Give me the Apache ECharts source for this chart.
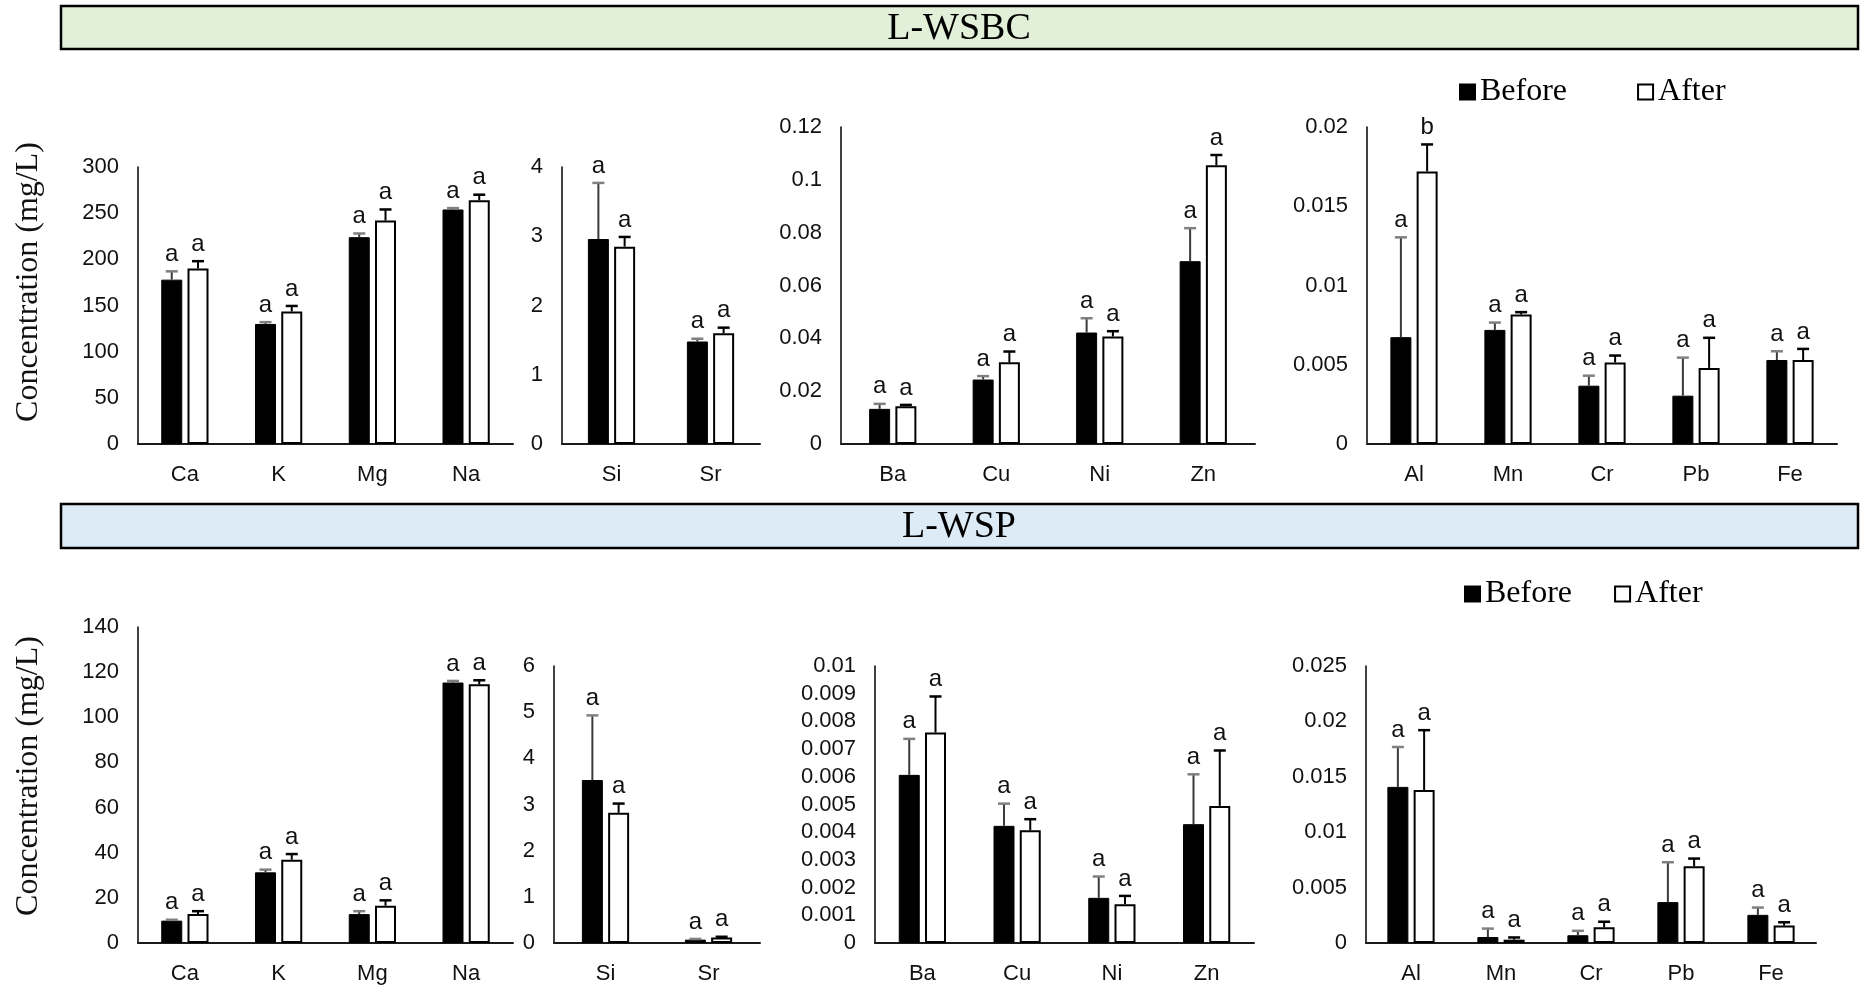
<!DOCTYPE html>
<html>
<head>
<meta charset="utf-8">
<title>L-WSBC / L-WSP element concentrations</title>
<script src="https://cdn.jsdelivr.net/npm/echarts@6/dist/echarts.min.js"></script>
<style>
  html, body { margin: 0; padding: 0; background: #fff; }
  #chart { width: 1863px; height: 1001px; }
</style>
</head>
<body>
<div id="chart"></div>
<script>
// ---- categories ----
const majorCats = ['Ca', 'K', 'Mg', 'Na'];
const siSrCats = ['Si', 'Sr'];
const traceCats = ['Ba', 'Cu', 'Ni', 'Zn'];
const minorCats = ['Al', 'Mn', 'Cr', 'Pb', 'Fe'];

// ---- L-WSBC (mg/L), mean and one-sided error ----
const wsbcMajorBefore = [178, 130, 224, 254];
const wsbcMajorBeforeErr = [9, 2, 4, 1.5];
const wsbcMajorAfter = [190, 143.5, 242, 264];
const wsbcMajorAfterErr = [8, 6, 12, 6];

const wsbcSiSrBefore = [2.96, 1.48];
const wsbcSiSrBeforeErr = [0.81, 0.04];
const wsbcSiSrAfter = [2.85, 1.60];
const wsbcSiSrAfterErr = [0.14, 0.08];

const wsbcTraceBefore = [0.0133, 0.0244, 0.0422, 0.0692];
const wsbcTraceBeforeErr = [0.0019, 0.0013, 0.0054, 0.0125];
const wsbcTraceAfter = [0.0143, 0.0309, 0.0407, 0.1055];
const wsbcTraceAfterErr = [0.0005, 0.0041, 0.002, 0.0039];

const wsbcMinorBefore = [0.00674, 0.0072, 0.00368, 0.00305, 0.0053];
const wsbcMinorBeforeErr = [0.0063, 0.00046, 0.00063, 0.0024, 0.00055];
const wsbcMinorAfter = [0.0172, 0.00817, 0.00514, 0.0048, 0.0053];
const wsbcMinorAfterErr = [0.0017, 0.00015, 0.00044, 0.0019, 0.0007];
const wsbcMinorAfterLetters = ['b', 'a', 'a', 'a', 'a'];

// ---- L-WSP (mg/L), mean and one-sided error ----
const wspMajorBefore = [9.9, 31.3, 12.8, 115.4];
const wspMajorBeforeErr = [0.4, 1.2, 1.3, 0.7];
const wspMajorAfter = [12.8, 36.9, 16.5, 114.6];
const wspMajorAfterErr = [1.3, 2.5, 2.4, 1.8];

const wspSiSrBefore = [3.53, 0.073];
const wspSiSrBeforeErr = [1.4, 0.015];
const wspSiSrAfter = [2.82, 0.12];
const wspSiSrAfterErr = [0.2, 0.015];

const wspTraceBefore = [0.00607, 0.00423, 0.00163, 0.00429];
const wspTraceBeforeErr = [0.0013, 0.0008, 0.00077, 0.0018];
const wspTraceAfter = [0.0076, 0.00407, 0.0014, 0.00495];
const wspTraceAfterErr = [0.0013, 0.0004, 0.0003, 0.002];

const wspMinorBefore = [0.01409, 0.00054, 0.0007, 0.00369, 0.00254];
const wspMinorBeforeErr = [0.0036, 0.00076, 0.0004, 0.0036, 0.00066];
const wspMinorAfter = [0.01381, 0.0003, 0.00142, 0.00692, 0.00157];
const wspMinorAfterErr = [0.0054, 0.0002, 0.0005, 0.0007, 0.0003];

// ---- value axis ranges ----
const wsbcAxisMax = [300, 4, 0.12, 0.02];
const wsbcAxisStep = [50, 1, 0.02, 0.005];
const wspAxisMax = [140, 6, 0.01, 0.025];
const wspAxisStep = [20, 1, 0.001, 0.005];

// ---- drawing ----
const SANS = "'Liberation Sans Narrow', 'Liberation Sans', Arial, sans-serif";
const SERIF = "'Liberation Serif', 'Times New Roman', serif";
const BAR_W = 21;
const BAR_GAP = 0.25;
const HALF_STEP = (BAR_W + BAR_W * BAR_GAP) / 2;

function letters(n, l) { return new Array(n).fill(l || 'a'); }

const panels = [
  // top row
  { grid: { left: 138, width: 375, top: 167, height: 277 }, cats: majorCats, max: wsbcAxisMax[0], step: wsbcAxisStep[0],
    b: wsbcMajorBefore, be: wsbcMajorBeforeErr, a: wsbcMajorAfter, ae: wsbcMajorAfterErr },
  { grid: { left: 562, width: 198, top: 167, height: 277 }, cats: siSrCats, max: wsbcAxisMax[1], step: wsbcAxisStep[1],
    b: wsbcSiSrBefore, be: wsbcSiSrBeforeErr, a: wsbcSiSrAfter, ae: wsbcSiSrAfterErr },
  { grid: { left: 841, width: 414, top: 127, height: 317 }, cats: traceCats, max: wsbcAxisMax[2], step: wsbcAxisStep[2],
    b: wsbcTraceBefore, be: wsbcTraceBeforeErr, a: wsbcTraceAfter, ae: wsbcTraceAfterErr },
  { grid: { left: 1367, width: 470, top: 127, height: 317 }, cats: minorCats, max: wsbcAxisMax[3], step: wsbcAxisStep[3],
    b: wsbcMinorBefore, be: wsbcMinorBeforeErr, a: wsbcMinorAfter, ae: wsbcMinorAfterErr, al: wsbcMinorAfterLetters },
  // bottom row
  { grid: { left: 138, width: 375, top: 627, height: 316 }, cats: majorCats, max: wspAxisMax[0], step: wspAxisStep[0],
    b: wspMajorBefore, be: wspMajorBeforeErr, a: wspMajorAfter, ae: wspMajorAfterErr },
  { grid: { left: 554, width: 206, top: 666, height: 277 }, cats: siSrCats, max: wspAxisMax[1], step: wspAxisStep[1],
    b: wspSiSrBefore, be: wspSiSrBeforeErr, a: wspSiSrAfter, ae: wspSiSrAfterErr },
  { grid: { left: 875, width: 379, top: 666, height: 277 }, cats: traceCats, max: wspAxisMax[2], step: wspAxisStep[2],
    b: wspTraceBefore, be: wspTraceBeforeErr, a: wspTraceAfter, ae: wspTraceAfterErr },
  { grid: { left: 1366, width: 450, top: 666, height: 277 }, cats: minorCats, max: wspAxisMax[3], step: wspAxisStep[3],
    b: wspMinorBefore, be: wspMinorBeforeErr, a: wspMinorAfter, ae: wspMinorAfterErr }
];

// one-sided error bar with cap and significance letter above it
function errorRenderer(offset, lineColor, capColor, letterList) {
  return function (params, api) {
    const idx = api.value(0);
    const base = api.coord([idx, api.value(1)]);
    const tip = api.coord([idx, api.value(1) + api.value(2)]);
    const x = base[0] + offset;
    const letter = letterList[params.dataIndex] || '';
    return {
      type: 'group',
      children: [
        { type: 'line', shape: { x1: x, y1: base[1], x2: x, y2: tip[1] },
          style: { stroke: lineColor, lineWidth: 2 } },
        { type: 'line', shape: { x1: x - 6, y1: tip[1], x2: x + 6, y2: tip[1] },
          style: { stroke: capColor, lineWidth: 2.5 } },
        { type: 'text', x: x, y: tip[1] - 5,
          style: { text: letter, align: 'center', verticalAlign: 'bottom',
            fill: '#111', font: '24px ' + SANS } }
      ]
    };
  };
}

const grids = [], xAxes = [], yAxes = [], series = [];
panels.forEach(function (p, i) {
  grids.push(Object.assign({ containLabel: false }, p.grid));
  xAxes.push({
    type: 'category', gridIndex: i, data: p.cats,
    axisTick: { show: false },
    axisLine: { lineStyle: { color: '#1a1a1a', width: 2 } },
    axisLabel: { color: '#111', fontFamily: SANS, fontSize: 22, margin: 20 }
  });
  yAxes.push({
    type: 'value', gridIndex: i, min: 0, max: p.max, interval: p.step,
    splitLine: { show: false },
    axisTick: { show: false },
    axisLine: { show: true, lineStyle: { color: '#000', width: 1.5 } },
    axisLabel: { color: '#111', fontFamily: SANS, fontSize: 22, margin: 19 }
  });
  const bLetters = p.bl || letters(p.cats.length);
  const aLetters = p.al || letters(p.cats.length);
  series.push({
    name: 'Before', type: 'bar', xAxisIndex: i, yAxisIndex: i, data: p.b,
    barWidth: BAR_W, barGap: (BAR_GAP * 100) + '%',
    itemStyle: { color: '#000', borderColor: '#000', borderWidth: 1 }
  });
  series.push({
    name: 'After', type: 'bar', xAxisIndex: i, yAxisIndex: i, data: p.a,
    barWidth: BAR_W, barGap: (BAR_GAP * 100) + '%',
    itemStyle: { color: '#fff', borderColor: '#000', borderWidth: 2 }
  });
  series.push({
    type: 'custom', xAxisIndex: i, yAxisIndex: i, z: 5,
    renderItem: errorRenderer(-HALF_STEP, '#3a3a3a', '#808080', bLetters),
    data: p.b.map(function (v, k) { return [k, v, p.be[k]]; })
  });
  series.push({
    type: 'custom', xAxisIndex: i, yAxisIndex: i, z: 5,
    renderItem: errorRenderer(HALF_STEP, '#000', '#000', aLetters),
    data: p.a.map(function (v, k) { return [k, v, p.ae[k]]; })
  });
});

const legendText = { fontFamily: SERIF, fontSize: 32, color: '#000' };
const option = {
  animation: false,
  backgroundColor: '#fff',
  grid: grids,
  xAxis: xAxes,
  yAxis: yAxes,
  series: series,
  legend: [
    { data: ['Before', 'After'], left: 1459, top: 76, padding: 0, itemGap: 70,
      itemWidth: 15, itemHeight: 15, icon: 'rect', textStyle: legendText },
    { data: ['Before', 'After'], left: 1464, top: 578, padding: 0, itemGap: 42,
      itemWidth: 15, itemHeight: 15, icon: 'rect', textStyle: legendText }
  ],
  graphic: [
    { type: 'rect', shape: { x: 61, y: 6, width: 1797, height: 43 },
      style: { fill: '#e2efd9', stroke: '#000', lineWidth: 2.5 } },
    { type: 'text', x: 959, y: 29, style: { text: 'L-WSBC', font: '38px ' + SERIF,
      fill: '#000', align: 'center', verticalAlign: 'middle' } },
    { type: 'rect', shape: { x: 61, y: 504, width: 1797, height: 44 },
      style: { fill: '#ddebf7', stroke: '#000', lineWidth: 2.5 } },
    { type: 'text', x: 959, y: 527, style: { text: 'L-WSP', font: '38px ' + SERIF,
      fill: '#000', align: 'center', verticalAlign: 'middle' } },
    { type: 'text', x: 29, y: 282, rotation: Math.PI / 2, style: { text: 'Concentration (mg/L)',
      font: '32px ' + SERIF, fill: '#111', align: 'center', verticalAlign: 'middle' } },
    { type: 'text', x: 29, y: 776, rotation: Math.PI / 2, style: { text: 'Concentration (mg/L)',
      font: '32px ' + SERIF, fill: '#111', align: 'center', verticalAlign: 'middle' } }
  ]
};

const chart = echarts.init(document.getElementById('chart'), null, { renderer: 'canvas' });
chart.setOption(option);
</script>
</body>
</html>
